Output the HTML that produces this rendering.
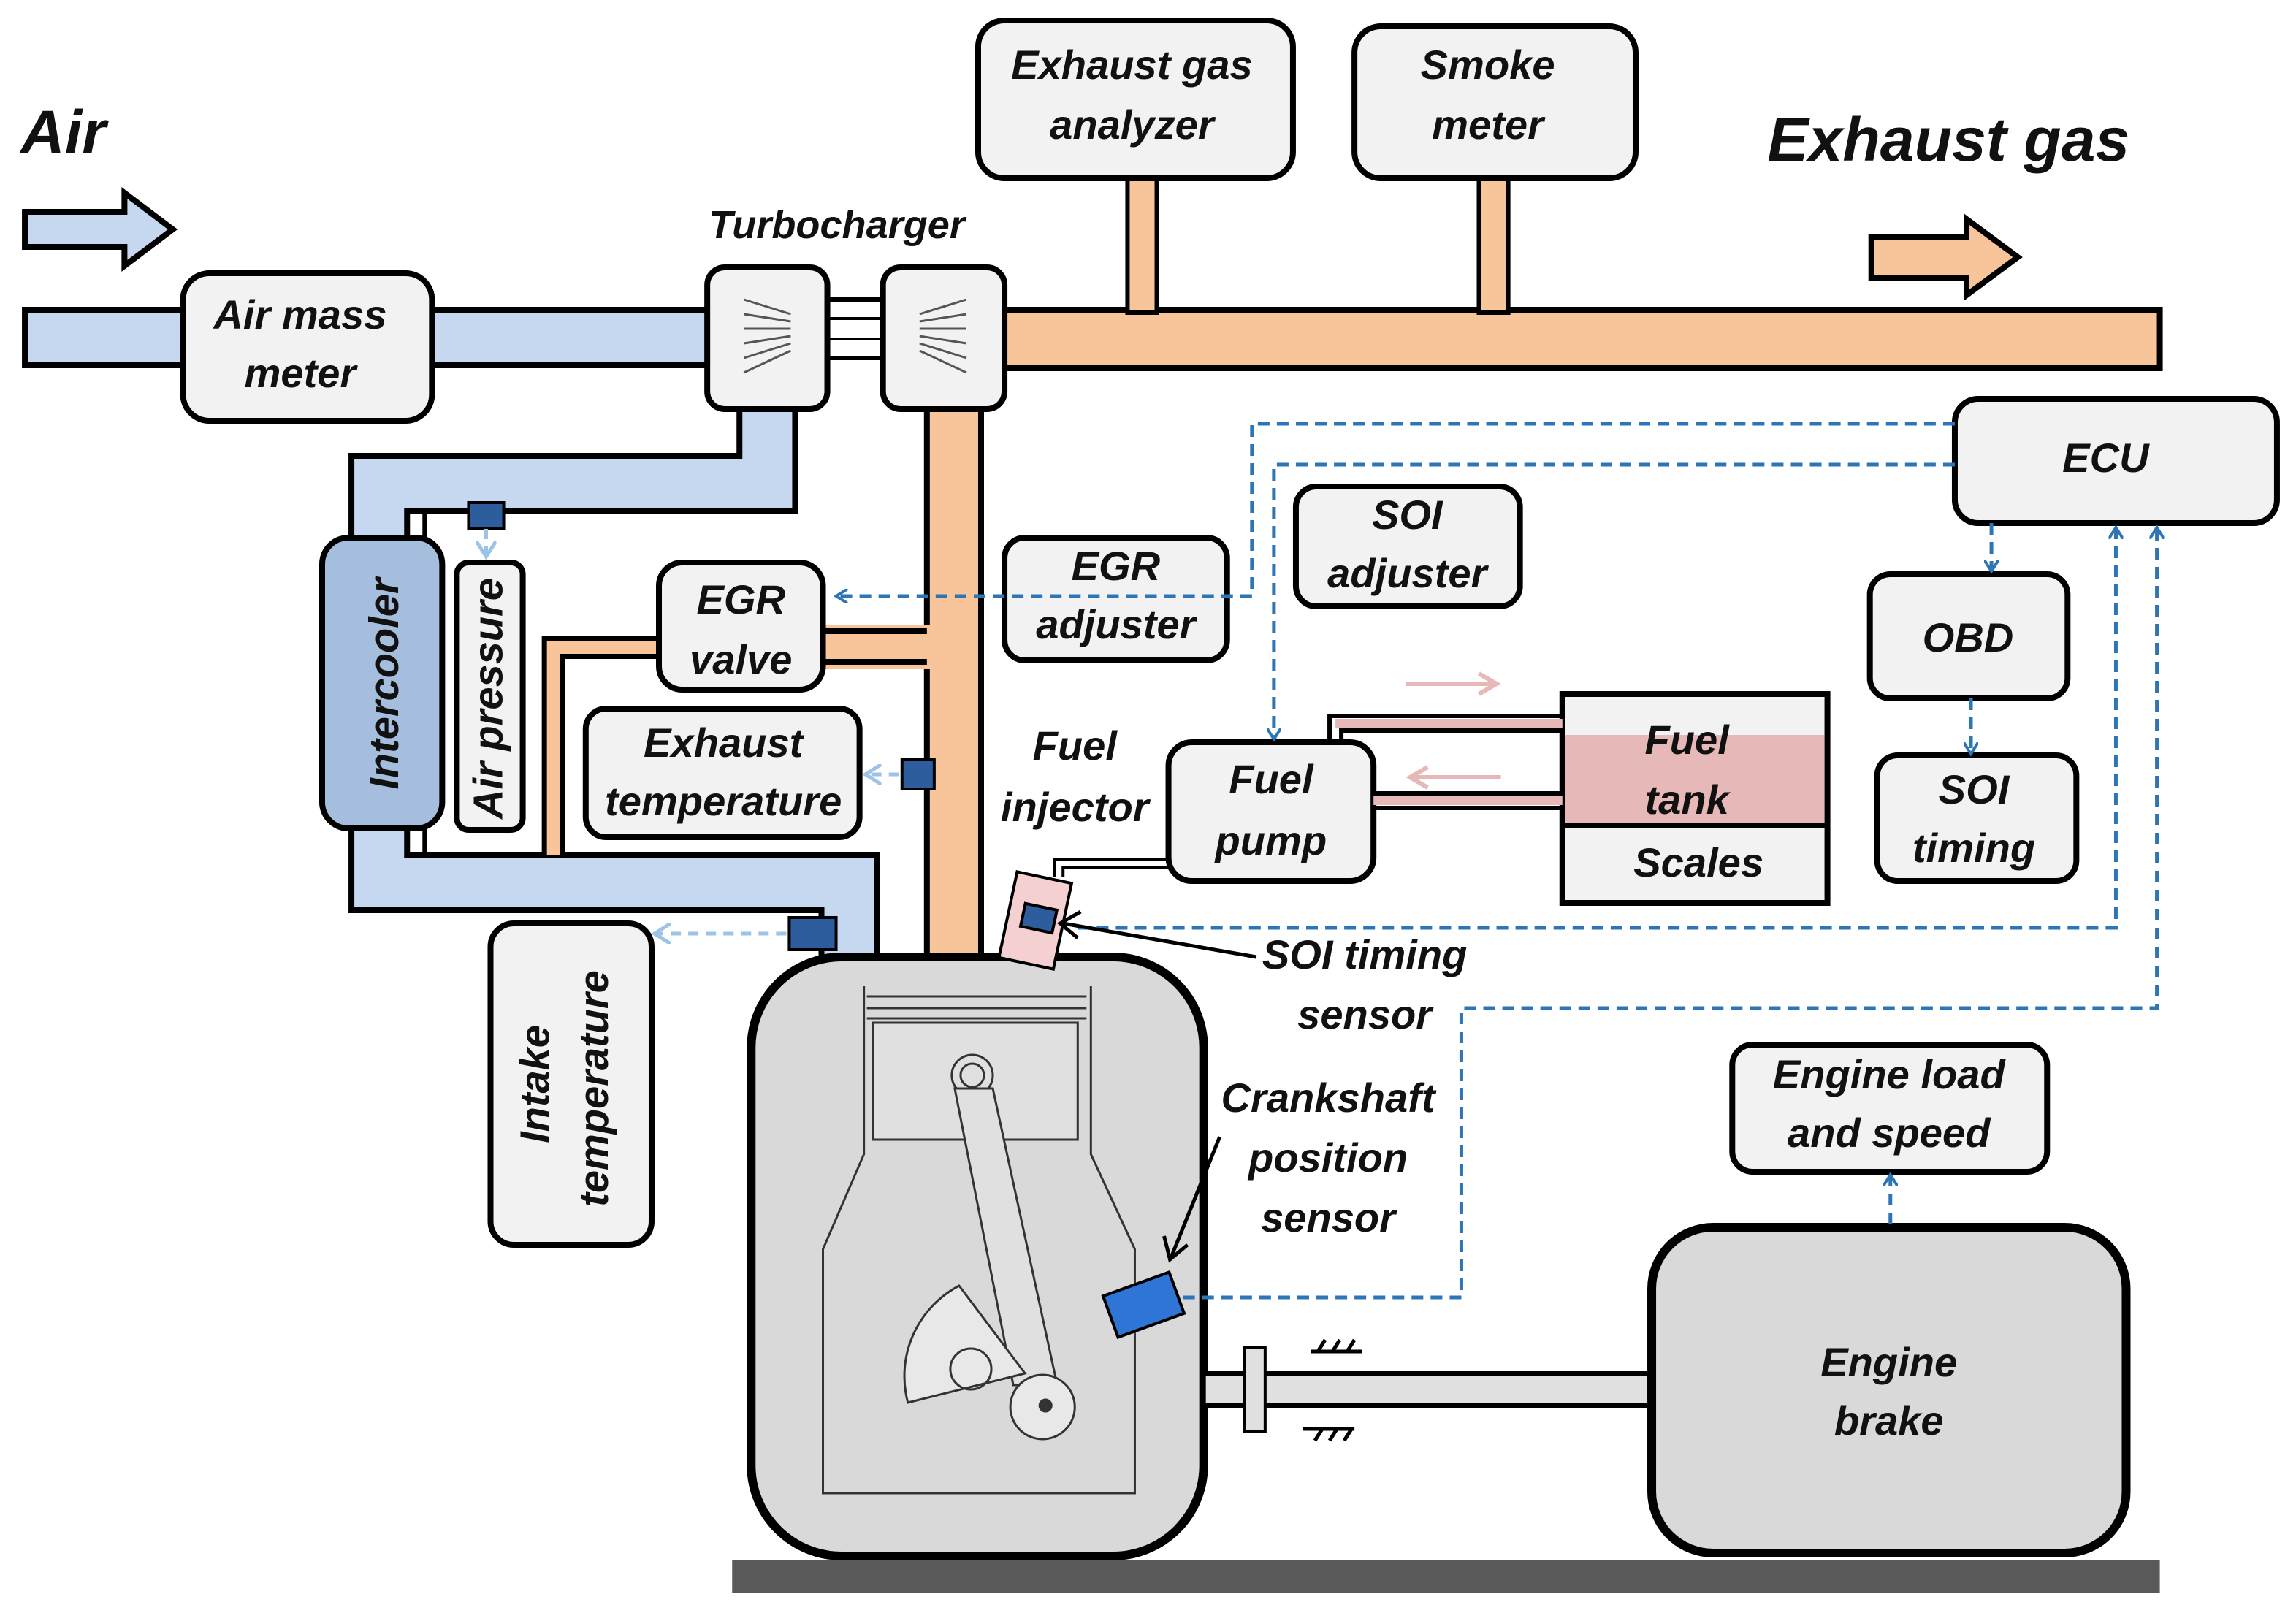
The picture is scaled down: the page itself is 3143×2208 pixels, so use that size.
<!DOCTYPE html>
<html><head><meta charset="utf-8"><style>
html,body{margin:0;padding:0;background:#fff;}
svg{display:block;}
text{font-family:"Liberation Sans",sans-serif;font-weight:bold;font-style:italic;fill:#111;}
</style></head><body>
<svg width="3143" height="2208" viewBox="0 0 1568 1104" preserveAspectRatio="none" xmlns="http://www.w3.org/2000/svg">
<defs>
<marker id="ah" markerWidth="10" markerHeight="10" refX="7" refY="5" orient="auto" markerUnits="userSpaceOnUse"><path d="M0,0 L8,5 L0,10" fill="none" stroke="#2e75b6" stroke-width="2"/></marker>
<marker id="ah2" markerWidth="14" markerHeight="14" refX="10" refY="7" orient="auto" markerUnits="userSpaceOnUse"><path d="M0,0 L11,7 L0,14" fill="none" stroke="#9dc3e6" stroke-width="2.5"/></marker>
</defs>
<rect width="1568" height="1104" fill="#fff"/>

<!-- Air pipe -->
<rect x="17" y="212" width="480" height="38" fill="#c5d8f0" stroke="#000" stroke-width="4"/>
<!-- Exhaust pipe -->
<rect x="680" y="212" width="795" height="40" fill="#f8c49a" stroke="#000" stroke-width="4"/>
<rect x="770" y="122" width="20" height="92" fill="#f8c49a" stroke="#000" stroke-width="3"/>
<rect x="1010" y="122" width="20" height="92" fill="#f8c49a" stroke="#000" stroke-width="3"/>
<!-- shaft turbo -->
<rect x="563" y="205" width="42" height="40" fill="#fff" stroke="#000" stroke-width="3"/>
<line x1="563" y1="218" x2="605" y2="218" stroke="#000" stroke-width="2"/><line x1="563" y1="232" x2="605" y2="232" stroke="#000" stroke-width="2"/>

<!-- intake blue pipes (outline + fill) -->
<path d="M524,280 L524,331 L259,331 L259,380" fill="none" stroke="#000" stroke-width="42"/>
<path d="M524,280 L524,331 L259,331 L259,380" fill="none" stroke="#c5d8f0" stroke-width="34"/>
<path d="M259,560 L259,604 L580,604 L580,660" fill="none" stroke="#000" stroke-width="42"/>
<path d="M259,560 L259,604 L580,604 L580,660" fill="none" stroke="#c5d8f0" stroke-width="34"/>
<!-- orange vertical -->
<rect x="633" y="278" width="37" height="384" fill="#f8c49a" stroke="#000" stroke-width="4"/>
<!-- EGR pipe -->
<path d="M635,443 L378,443 L378,585" fill="none" stroke="#000" stroke-width="16"/>
<path d="M637,443 L378,443 L378,585" fill="none" stroke="#f8c49a" stroke-width="9"/>
<rect x="560" y="428" width="76" height="30" fill="#f8c49a"/>
<line x1="560" y1="432" x2="633" y2="432" stroke="#000" stroke-width="4"/>
<line x1="560" y1="453" x2="633" y2="453" stroke="#000" stroke-width="4"/>
<!-- pressure line -->
<path d="M290,370 L290,350 L330,350" fill="none" stroke="#000" stroke-width="3"/>
<path d="M290,560 L290,585" fill="none" stroke="#000" stroke-width="3"/>

<!-- Air arrow -->
<path d="M17,145 L85,145 L85,132 L118,157 L85,182 L85,169 L17,169 Z" fill="#c5d8f0" stroke="#000" stroke-width="4"/>
<path d="M1278,162 L1343,162 L1343,150 L1378,176 L1343,202 L1343,190 L1278,190 Z" fill="#f8c49a" stroke="#000" stroke-width="4"/>
<text x="14" y="105" font-size="42">Air</text>
<text x="1207" y="110" font-size="42">Exhaust gas</text>
<text x="484" y="163" font-size="27">Turbocharger</text>

<!-- boxes -->
<g fill="#f2f2f2" stroke="#000" stroke-width="4">
<rect x="125" y="187" width="170" height="101" rx="18"/>
<rect x="483" y="183" width="82" height="97" rx="12"/>
<rect x="603" y="183" width="83" height="97" rx="12"/>
<rect x="668" y="14" width="215" height="108" rx="18"/>
<rect x="925" y="18" width="192" height="104" rx="18"/>
<rect x="450" y="385" width="112" height="87" rx="16"/>
<rect x="686" y="368" width="152" height="84" rx="14"/>
<rect x="885" y="333" width="153" height="82" rx="14"/>
<rect x="400" y="485" width="187" height="88" rx="14"/>
<rect x="312" y="385" width="45" height="183" rx="8"/>
<rect x="335" y="632" width="110" height="220" rx="16"/>
<rect x="1335" y="273" width="220" height="85" rx="16"/>
<rect x="1277" y="393" width="135" height="85" rx="14"/>
<rect x="1282" y="517" width="136" height="86" rx="14"/>
<rect x="1183" y="715" width="215" height="87" rx="14"/>
<rect x="798" y="508" width="140" height="95" rx="16"/>
</g>
<rect x="220" y="368" width="82" height="199" rx="18" fill="#a6bedd" stroke="#000" stroke-width="4"/>
<!-- turbo blades -->
<g stroke="#555" stroke-width="1.5" fill="none">
<path d="M508,205 L540,215 M508,215 L540,220 M508,225 L540,225 M508,235 L540,230 M508,245 L540,235 M508,255 L540,240"/>
<path d="M660,205 L628,215 M660,215 L628,220 M660,225 L628,225 M660,235 L628,230 M660,245 L628,235 M660,255 L628,240"/>
</g>

<!-- fuel tank -->
<rect x="1067" y="475" width="181" height="143" fill="#f2f2f2" stroke="#000" stroke-width="4"/>
<rect x="1069" y="503" width="177" height="62" fill="#e6b8b7"/>
<line x1="1067" y1="565" x2="1248" y2="565" stroke="#000" stroke-width="4"/>
<!-- fuel lines -->
<path d="M908,508 L908,490 L1067,490 M916,508 L916,500 L1067,500" fill="none" stroke="#000" stroke-width="3"/>
<line x1="912" y1="495" x2="1067" y2="495" stroke="#e6b8b7" stroke-width="6"/>
<path d="M938,543 L1067,543 M938,553 L1067,553" stroke="#000" stroke-width="3"/>
<line x1="938" y1="548" x2="1067" y2="548" stroke="#e6b8b7" stroke-width="6"/>
<path d="M960,468 L1020,468" stroke="#e6b8b7" stroke-width="3"/><path d="M1010,461 L1022,468 L1010,475" fill="none" stroke="#e6b8b7" stroke-width="3"/>
<path d="M965,532 L1025,532" stroke="#e6b8b7" stroke-width="3"/><path d="M975,525 L963,532 L975,539" fill="none" stroke="#e6b8b7" stroke-width="3"/>
<path d="M800,588 L720,588 L720,600 M800,594 L726,594 L726,600" fill="none" stroke="#000" stroke-width="2"/>

<!-- engine -->
<rect x="513" y="655" width="309" height="410" rx="62" fill="#d9d9d9" stroke="#000" stroke-width="6"/>
<g fill="none" stroke="#333" stroke-width="1.5">
<path d="M590,675 L590,790 L562,855 L562,1022 L775,1022 L775,855 L745,790 L745,675"/>
<rect x="596" y="700" width="140" height="80" fill="#e0e0e0"/>
<line x1="592" y1="682" x2="742" y2="682"/><line x1="592" y1="690" x2="742" y2="690"/><line x1="592" y1="697" x2="742" y2="697"/>
<circle cx="664" cy="736" r="14"/><circle cx="664" cy="736" r="8"/>
<path d="M652,745 L692,948 L722,948 L678,745 Z" fill="#e0e0e0"/>
<path d="M655,880 A70,70 0 0 0 620,960 L700,940 Z" fill="#e8e8e8"/>
<circle cx="663" cy="937" r="14"/>
<circle cx="712" cy="963" r="22" fill="#e8e8e8"/><circle cx="714" cy="962" r="4" fill="#333"/>
</g>
<!-- injector -->
<rect x="688" y="600" width="38" height="60" fill="#f5d0d0" stroke="#000" stroke-width="2" transform="rotate(12 707 630)"/>
<rect x="698" y="620" width="22" height="16" fill="#2e5d9e" stroke="#000" stroke-width="2" transform="rotate(12 707 630)"/>

<!-- base & shaft -->
<rect x="500" y="1068" width="975" height="22" fill="#595959"/>
<rect x="822" y="940" width="308" height="22" fill="#e0e0e0" stroke="#000" stroke-width="3"/>
<rect x="850" y="922" width="14" height="58" fill="#e0e0e0" stroke="#000" stroke-width="2"/>
<path d="M895,925 L930,925 M900,925 L905,917 M910,925 L915,917 M920,925 L925,917 M890,978 L925,978 M898,986 L903,978 M908,986 L913,978 M918,986 L923,978" stroke="#000" stroke-width="2.5"/>
<rect x="1128" y="840" width="324" height="223" rx="42" fill="#d9d9d9" stroke="#000" stroke-width="6"/>

<!-- sensors -->
<rect x="320" y="344" width="24" height="18" fill="#2e5d9e" stroke="#000" stroke-width="2"/>
<rect x="616" y="520" width="22" height="20" fill="#2e5d9e" stroke="#000" stroke-width="2"/>
<rect x="539" y="628" width="32" height="22" fill="#2e5d9e" stroke="#000" stroke-width="2"/>
<rect x="757" y="878" width="48" height="30" fill="#2e75d6" stroke="#000" stroke-width="2" transform="rotate(-20 781 893)"/>

<!-- dashed signals -->
<g fill="none" stroke="#2e75b6" stroke-width="2.5" stroke-dasharray="8,5">
<path d="M1335,290 L855,290 L855,408 L572,408" marker-end="url(#ah)"/>
<path d="M1335,318 L870,318 L870,505" marker-end="url(#ah)"/>
<path d="M1360,358 L1360,390" marker-end="url(#ah)"/>
<path d="M1346,478 L1346,515" marker-end="url(#ah)"/>
<path d="M1291,838 L1291,805" marker-end="url(#ah)"/>
<path d="M736,635 L1445,635 L1445,362" marker-end="url(#ah)"/>
<path d="M808,888 L998,888 L998,690 L1473,690 L1473,362" marker-end="url(#ah)"/>
</g>
<g fill="none" stroke="#9dc3e6" stroke-width="2.5" stroke-dasharray="7,5">
<path d="M332,362 L332,380" marker-end="url(#ah2)"/>
<path d="M614,530 L592,530" marker-end="url(#ah2)"/>
<path d="M537,639 L448,639" marker-end="url(#ah2)"/>
</g>
<!-- pointer arrows -->
<path d="M858,655 L726,632" stroke="#000" stroke-width="2.5"/><path d="M738,624 L724,632 L736,642" fill="none" stroke="#000" stroke-width="2.5"/>
<path d="M833,778 L800,860" stroke="#000" stroke-width="2.5"/><path d="M795,846 L799,862 L811,852" fill="none" stroke="#000" stroke-width="2.5"/>

<!-- labels -->
<g font-size="28" text-anchor="middle">
<text x="205" y="225">Air mass</text><text x="205" y="265">meter</text>
<text x="773" y="54">Exhaust gas</text><text x="773" y="95">analyzer</text>
<text x="1016" y="54">Smoke</text><text x="1016" y="95">meter</text>
<text x="506" y="420">EGR</text><text x="506" y="461">valve</text>
<text x="762" y="397">EGR</text><text x="762" y="437">adjuster</text>
<text x="961" y="362">SOI</text><text x="961" y="402">adjuster</text>
<text x="494" y="518">Exhaust</text><text x="494" y="558">temperature</text>
<text x="1438" y="323">ECU</text>
<text x="1344" y="446">OBD</text>
<text x="1348" y="550">SOI</text><text x="1348" y="590">timing</text>
<text x="1290" y="745">Engine load</text><text x="1290" y="785">and speed</text>
<text x="868" y="543">Fuel</text><text x="868" y="585">pump</text>
<text x="1152" y="516">Fuel</text><text x="1152" y="557">tank</text>
<text x="1160" y="600">Scales</text>
<text x="1290" y="942">Engine</text><text x="1290" y="982">brake</text>
<text x="734" y="520">Fuel</text><text x="734" y="562">injector</text>
<text x="932" y="663">SOI timing</text><text x="932" y="704">sensor</text>
<text x="907" y="761">Crankshaft</text><text x="907" y="802">position</text><text x="907" y="843">sensor</text>
<text transform="translate(272,468) rotate(-90)">Intercooler</text>
<text transform="translate(343,478) rotate(-90)">Air pressure</text>
<text transform="translate(375,742) rotate(-90)">Intake</text>
<text transform="translate(415,745) rotate(-90)">temperature</text>
</g>
</svg>
</body></html>
